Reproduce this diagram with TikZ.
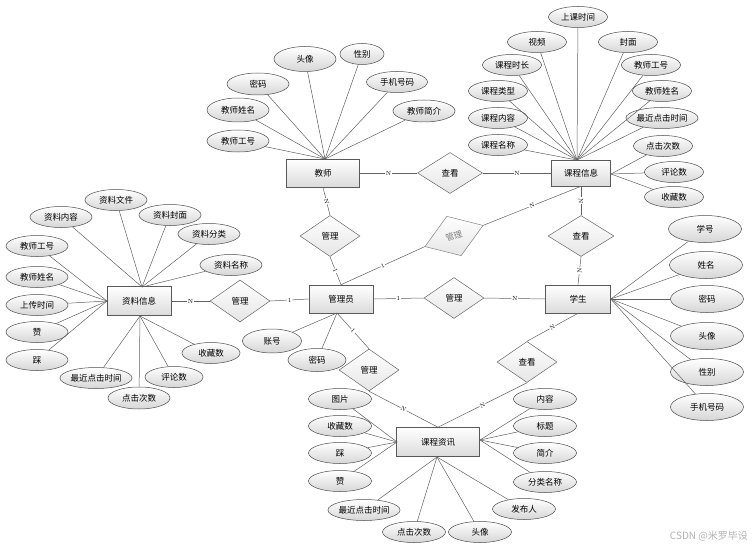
\documentclass[tikz,border=0pt]{standalone}
\usepackage{fontspec}
\newfontfamily\cjk{Noto Sans CJK SC}
\usetikzlibrary{shapes.geometric}
\begin{document}
\begin{tikzpicture}[x=1pt,y=-1pt,
  font=\cjk\fontsize{8.5}{10}\selectfont,
  ent/.style={draw=black!65, line width=0.6pt, top color=white, bottom color=black!14, minimum width=64pt, minimum height=28pt, inner sep=0pt},
  rel/.style={diamond, draw=black!60, line width=0.5pt, top color=white, bottom color=black!10, minimum width=60pt, minimum height=41pt, inner sep=0pt, aspect=1.5},
  attr/.style={ellipse, draw=black!70, line width=0.5pt, top color=white, bottom color=black!16, minimum width=62pt, minimum height=22pt, inner sep=0pt},
  lnk/.style={draw=black!62, line width=0.5pt},
  card/.style={font=\rmfamily\fontsize{6}{6}\selectfont, fill=white, inner sep=0.6pt, midway, sloped}
]
\useasboundingbox (0,0) rectangle (756,551);

% entities
\node[ent, minimum width=73pt] (T) at (323,173) {教师};
\node[ent, minimum width=59pt, minimum height=26pt] (C) at (581,173) {课程信息};
\node[ent, minimum width=64pt, minimum height=29pt] (M) at (139,301) {资料信息};
\node[ent, minimum width=64pt] (A) at (341,299) {管理员};
\node[ent, minimum width=65pt] (S) at (578,299) {学生};
\node[ent, minimum width=83pt, minimum height=29pt] (N) at (438,442) {课程资讯};

% relationships
\node[rel, minimum width=65pt] (R1) at (450,173) {查看};
\node[rel] (R2) at (330,236) {管理};
\node[rel, minimum width=62pt, minimum height=42pt, rotate=20, text=black!50, draw=black!50] (R3) at (454,236) {管理};
\node[rel, minimum width=66pt] (R4) at (581,236) {查看};
\node[rel, minimum height=42pt] (R5) at (240,301) {管理};
\node[rel] (R6) at (454,298) {管理};
\node[rel, minimum height=42pt] (R7) at (369,370) {管理};
\node[rel] (R8) at (527,362) {查看};

% convergence points
\coordinate (tT) at (325,159);
\coordinate (tC) at (577,160);
\coordinate (rC) at (611,174);
\coordinate (tM) at (142,287);
\coordinate (lM) at (107,301);
\coordinate (bM) at (140,316);
\coordinate (lN) at (397,442);
\coordinate (rN) at (480,440);
\coordinate (bN) at (437,457);
\coordinate (adb) at (337,313);

% relationship connectors
\draw[lnk] (T.east) -- node[card]{N} (R1.west);
\draw[lnk] (R1.east) -- node[card]{N} (C.west);
\draw[lnk] (T.south) -- node[card]{N} (R2.north);
\draw[lnk] (R2.south) -- node[card]{1} (A.north);
\draw[lnk] (A.north) -- node[card]{1} (R3.west);
\draw[lnk] (R3.east) -- node[card]{N} (C.south);
\draw[lnk] (C.south) -- node[card]{N} (R4.north);
\draw[lnk] (R4.south) -- node[card]{N} (S.north);
\draw[lnk] (M.east) -- node[card]{N} (R5.west);
\draw[lnk] (R5.east) -- node[card]{1} (A.west);
\draw[lnk] (A.east) -- node[card]{1} (R6.west);
\draw[lnk] (R6.east) -- node[card]{N} (S.west);
\draw[lnk] (adb) -- node[card]{1} (R7.north);
\draw[lnk] (R7.south) -- node[card]{N} (N.north);
\draw[lnk] (S.south) -- node[card]{N} (R8.north);
\draw[lnk] (R8.south) -- node[card]{N} (N.north);

% teacher attributes
\node[attr, minimum height=25pt] (t1) at (305,59) {头像};
\node[attr, minimum width=44pt, minimum height=21pt] (t2) at (362,54) {性别};
\node[attr] (t3) at (258,84) {密码};
\node[attr, minimum width=61pt, minimum height=21pt] (t4) at (397,82) {手机号码};
\node[attr, minimum height=24pt] (t5) at (238,110) {教师姓名};
\node[attr] (t6) at (424,111) {教师简介};
\node[attr] (t7) at (238,141) {教师工号};
\foreach \a in {t1,t2,t3,t4,t5,t6,t7} \draw[lnk] (\a) -- (tT);

% course info attributes
\begin{scope}[attr/.append style={minimum width=59pt, minimum height=21pt}]
\node[attr] (c1) at (578,17) {上课时间};
\node[attr] (c2) at (537,42) {视频};
\node[attr] (c3) at (628,42) {封面};
\node[attr] (c4) at (512,65) {课程时长};
\node[attr] (c5) at (651,65) {教师工号};
\node[attr] (c6) at (498,91) {课程类型};
\node[attr] (c7) at (662,91) {教师姓名};
\node[attr] (c8) at (498,118) {课程内容};
\node[attr] (c9) at (662,118) {最近点击时间};
\node[attr] (c10) at (498,145) {课程名称};
\node[attr] (c11) at (663,146) {点击次数};
\node[attr] (c12) at (674,172) {评论数};
\node[attr] (c13) at (674,197) {收藏数};
\end{scope}
\foreach \a in {c1,c2,c3,c4,c5,c6,c7,c8,c9,c10} \draw[lnk] (\a) -- (tC);
\foreach \a in {c11,c12,c13} \draw[lnk] (\a) -- (rC);

% material attributes
\begin{scope}[attr/.append style={minimum width=62pt, minimum height=21pt}]
\node[attr] (m1) at (116,200) {资料文件};
\node[attr] (m2) at (61,217) {资料内容};
\node[attr] (m3) at (170,215) {资料封面};
\node[attr] (m4) at (209,234) {资料分类};
\node[attr] (m5) at (231,265) {资料名称};
\node[attr] (m6) at (37,246) {教师工号};
\node[attr] (m7) at (37,277) {教师姓名};
\node[attr] (m8) at (37,305) {上传时间};
\node[attr] (m9) at (37,332) {赞};
\node[attr] (m10) at (37,360) {踩};
\node[attr, minimum width=58pt] (m11) at (211,353) {收藏数};
\node[attr, minimum width=58pt] (m12) at (174,377) {评论数};
\node[attr] (m13) at (96,378) {最近点击时间};
\node[attr, minimum height=22pt] (m14) at (139,398) {点击次数};
\end{scope}
\foreach \a in {m1,m2,m3,m4,m5} \draw[lnk] (\a) -- (tM);
\foreach \a in {m6,m7,m8,m9,m10} \draw[lnk] (\a) -- (lM);
\foreach \a in {m11,m12,m13,m14} \draw[lnk] (\a) -- (bM);

% student attributes
\begin{scope}[attr/.append style={minimum width=73pt, minimum height=27pt}]
\node[attr] (s1) at (705,229) {学号};
\node[attr] (s2) at (706,265) {姓名};
\node[attr] (s3) at (707,299) {密码};
\node[attr] (s4) at (707,336) {头像};
\node[attr] (s5) at (707,372) {性别};
\node[attr] (s6) at (707,407) {手机号码};
\end{scope}
\foreach \a in {s1,s2,s3,s4,s5,s6} \draw[lnk] (\a) -- (S.east);

% admin attributes
\node[attr, minimum width=59pt, minimum height=24pt] (a1) at (272,341) {账号};
\node[attr, minimum width=58pt, minimum height=23pt] (a2) at (317,360) {密码};
\foreach \a in {a1,a2} \draw[lnk] (\a) -- (adb);

% course news attributes
\begin{scope}[attr/.append style={minimum width=63pt, minimum height=21pt}]
\node[attr] (n1) at (340,399) {图片};
\node[attr] (n2) at (340,426) {收藏数};
\node[attr] (n3) at (340,453) {踩};
\node[attr] (n4) at (340,481) {赞};
\node[attr] (n5) at (364,510) {最近点击时间};
\node[attr] (n6) at (414,532) {点击次数};
\node[attr] (n7) at (480,532) {头像};
\node[attr] (n8) at (524,509) {发布人};
\node[attr] (n9) at (545,399) {内容};
\node[attr] (n10) at (545,426) {标题};
\node[attr] (n11) at (545,453) {简介};
\node[attr] (n12) at (545,482) {分类名称};
\end{scope}
\foreach \a in {n1,n2,n3,n4} \draw[lnk] (\a) -- (lN);
\foreach \a in {n5,n6,n7,n8} \draw[lnk] (\a) -- (bN);
\foreach \a in {n9,n10,n11,n12} \draw[lnk] (\a) -- (rN);

% watermark
\node[anchor=east, text=black!30, font=\cjk\fontsize{10}{12}\selectfont, inner sep=0pt] (wm) at (748,536) {CSDN @米罗毕设};
\end{tikzpicture}
\end{document}
